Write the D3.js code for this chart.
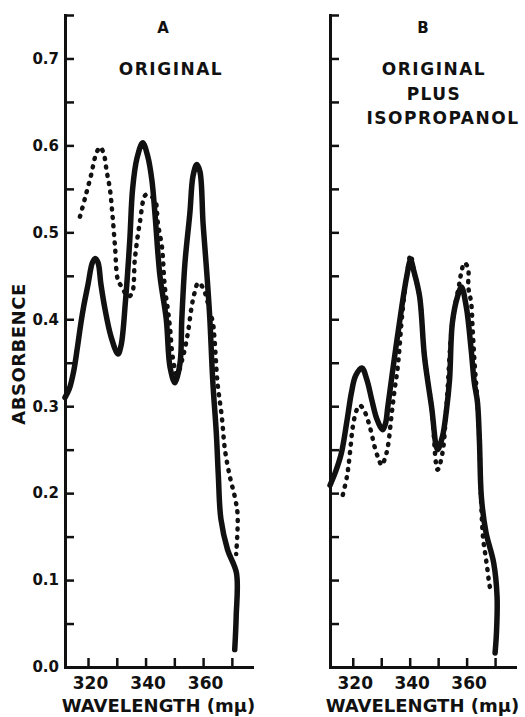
<!DOCTYPE html>
<html>
<head>
<meta charset="utf-8">
<script src="https://cdn.jsdelivr.net/npm/d3@7"></script>
<style>
body { margin: 0; background: #fff; }
text { font-family: "DejaVu Sans", sans-serif; font-weight: bold; fill: #111; }
</style>
</head>
<body>
<div id="chart"></div>
<script>
// traced curves: [wavelength (mμ), absorbance]
let solidA = [[312, 0.31], [313.5, 0.32], [315, 0.34], [316.2, 0.365], [317.5, 0.395], [318.5, 0.415], [320, 0.44],
    [321.5, 0.465], [322.5, 0.47], [323.5, 0.465], [324.5, 0.44], [326, 0.41], [328, 0.38], [330.4, 0.36], [331.5, 0.37],
    [333, 0.42], [334.5, 0.49], [335.5, 0.55], [337, 0.585], [339, 0.603], [340.8, 0.587], [342.2, 0.56], [343.3, 0.52],
    [345, 0.45], [347.2, 0.40], [348.5, 0.345], [350.2, 0.327], [352, 0.35], [352.6, 0.40], [353.7, 0.465], [355.4, 0.522],
    [356.5, 0.565], [357.8, 0.578], [358.9, 0.57], [360, 0.51], [361.3, 0.453], [362.3, 0.403], [363.4, 0.327],
    [364.6, 0.269], [365.3, 0.22], [366.2, 0.17], [368.5, 0.135], [371.6, 0.108], [371.5, 0.058], [371, 0.02]]

let dottedA = [[317.2, 0.518], [319, 0.54], [321, 0.565], [322.8, 0.59], [324.2, 0.598], [325.5, 0.59], [326.5, 0.57],
    [327.6, 0.55], [328.5, 0.52], [329.4, 0.483], [330.4, 0.445], [331.8, 0.437], [333.9, 0.426], [335.3, 0.43],
    [336.3, 0.47], [338, 0.511], [340, 0.543], [341.5, 0.542], [343.3, 0.537], [344.3, 0.51], [345.7, 0.483],
    [346.7, 0.437], [347.8, 0.41], [348.5, 0.39], [349.5, 0.355], [350.9, 0.336], [353, 0.357], [354.7, 0.384],
    [356, 0.414], [357, 0.43], [358.3, 0.442], [360, 0.436], [362.3, 0.41], [363.4, 0.396], [364, 0.376], [365, 0.327],
    [366.5, 0.288], [367.6, 0.25], [369.3, 0.219], [371, 0.196], [372, 0.175], [371.5, 0.13]]

let solidB = [[312, 0.209], [314, 0.225], [316, 0.246], [318, 0.284], [319.5, 0.315], [321, 0.335], [323.2, 0.344],
    [325, 0.33], [326.7, 0.307], [328.5, 0.285], [330.5, 0.273], [331.5, 0.28], [332.3, 0.299], [334.7, 0.357],
    [337.2, 0.414], [339, 0.45], [340.3, 0.468], [341.5, 0.455], [343.5, 0.426], [345.2, 0.357], [347.7, 0.299],
    [349.8, 0.25], [351.5, 0.265], [352.9, 0.295], [354, 0.33], [355, 0.396], [356.8, 0.426], [358.2, 0.437],
    [359.9, 0.414], [361.6, 0.365], [362.7, 0.327], [363.8, 0.305], [364.5, 0.26], [365.2, 0.195], [366.8, 0.155],
    [369.5, 0.12], [370.7, 0.081], [370.5, 0.04], [370, 0.016]]

let dottedB = [[316.5, 0.198], [318, 0.22], [319, 0.246], [320, 0.276], [321.3, 0.295], [322.5, 0.301], [324, 0.295],
    [325.3, 0.284], [326.5, 0.27], [327.7, 0.253], [329, 0.24], [330.2, 0.232], [331.3, 0.24], [332.3, 0.253],
    [333.7, 0.292], [334.7, 0.319], [335.8, 0.345], [337.5, 0.41], [339, 0.45], [340.3, 0.474], [341.5, 0.455],
    [343.5, 0.426], [345.2, 0.357], [347.7, 0.299], [349.8, 0.227], [351.5, 0.246], [352.9, 0.299], [355, 0.396],
    [357.5, 0.442], [358.2, 0.455], [359.2, 0.465], [360.5, 0.459], [360.6, 0.437], [361.6, 0.419], [362.1, 0.39],
    [362.8, 0.35], [363.8, 0.305], [364.5, 0.26], [365.1, 0.19], [365.8, 0.148], [366.5, 0.131], [367.2, 0.115],
    [367.9, 0.097], [368.6, 0.085]]

let xTicks = [320, 330, 340, 350, 360, 370]
let xLabels = [320, 340, 360]
let yTicks = d3.range(0, 16).map(i => +(i * 0.05).toFixed(2))
let yLabels = [0, 0.1, 0.2, 0.3, 0.4, 0.5, 0.6, 0.7]

let titlesA = ["ORIGINAL"]
let titlesB = ["ORIGINAL", "PLUS", "ISOPROPANOL"]

let width = 525, height = 717

let svg = d3.select("#chart")
    .append("svg")
    .attr("width", width)
    .attr("height", height)

// shared absorbance scale for both panels
let y = d3.scaleLinear().domain([0, 0.75]).range([667, 15])

function drawPanel(x, solid, dotted, showYLabels) {
    let g = svg.append("g")

    // y axis with inward ticks
    let yAxis = g.append("g")
        .attr("transform", "translate(" + x.range()[0] + ",0)")
        .call(d3.axisLeft(y)
            .tickValues(yTicks)
            .tickSizeInner(-9)
            .tickSizeOuter(0)
            .tickPadding(6)
            .tickFormat(d => (showYLabels && yLabels.includes(d)) ? d3.format(".1f")(d) : ""))

    // x axis with inward ticks
    let xAxis = g.append("g")
        .attr("transform", "translate(0," + y(0) + ")")
        .call(d3.axisBottom(x)
            .tickValues(xTicks)
            .tickSizeInner(-9)
            .tickSizeOuter(0)
            .tickPadding(10)
            .tickFormat(d => xLabels.includes(d) ? d : ""))

    g.selectAll(".domain").attr("stroke", "#111").attr("stroke-width", 3).attr("stroke-linecap", "square")
    g.selectAll(".tick line").attr("stroke", "#111").attr("stroke-width", 2.5)
    yAxis.selectAll("text").style("font-size", "15px")
    xAxis.selectAll("text").style("font-size", "17px").attr("dx", 2)

    let line = d3.line()
        .x(d => x(d[0]))
        .y(d => y(d[1]))
        .curve(d3.curveCatmullRom.alpha(0.5))

    g.append("path")
        .datum(dotted)
        .attr("d", line)
        .attr("fill", "none")
        .attr("stroke", "#111")
        .attr("stroke-width", 4.5)
        .attr("stroke-linecap", "round")
        .attr("stroke-dasharray", "1 7.5")

    g.append("path")
        .datum(solid)
        .attr("d", line)
        .attr("fill", "none")
        .attr("stroke", "#111")
        .attr("stroke-width", 5.5)
        .attr("stroke-linejoin", "round")
        .attr("stroke-linecap", "round")

    // wavelength label under the panel
    g.append("text")
        .attr("x", (x.range()[0] + x.range()[1]) / 2)
        .attr("y", 712)
        .attr("text-anchor", "middle")
        .style("font-size", "18px")
        .text("WAVELENGTH (mμ)")
}

let xA = d3.scaleLinear().domain([312, 377]).range([65, 252])
let xB = d3.scaleLinear().domain([312, 377]).range([330, 515])

drawPanel(xA, solidA, dottedA, true)
drawPanel(xB, solidB, dottedB, false)

// y axis title
svg.append("text")
    .attr("transform", "translate(25,354) rotate(-90)")
    .attr("text-anchor", "middle")
    .style("font-size", "18px")
    .style("letter-spacing", "0.5px")
    .text("ABSORBENCE")

// panel letters and captions
svg.append("text").attr("x", 163).attr("y", 33).attr("text-anchor", "middle").style("font-size", "15px").text("A")
svg.append("text").attr("x", 423).attr("y", 33).attr("text-anchor", "middle").style("font-size", "15px").text("B")

titlesA.forEach(function(t, i) {
    svg.append("text")
        .attr("x", 171).attr("y", 75 + i * 24.5)
        .attr("text-anchor", "middle")
        .style("font-size", "17px")
        .style("letter-spacing", "1.5px")
        .text(t)
})

let centersB = [434, 434, 443]
titlesB.forEach(function(t, i) {
    svg.append("text")
        .attr("x", centersB[i]).attr("y", 75 + i * 24.5)
        .attr("text-anchor", "middle")
        .style("font-size", "17px")
        .style("letter-spacing", "1.5px")
        .text(t)
})
</script>
</body>
</html>
